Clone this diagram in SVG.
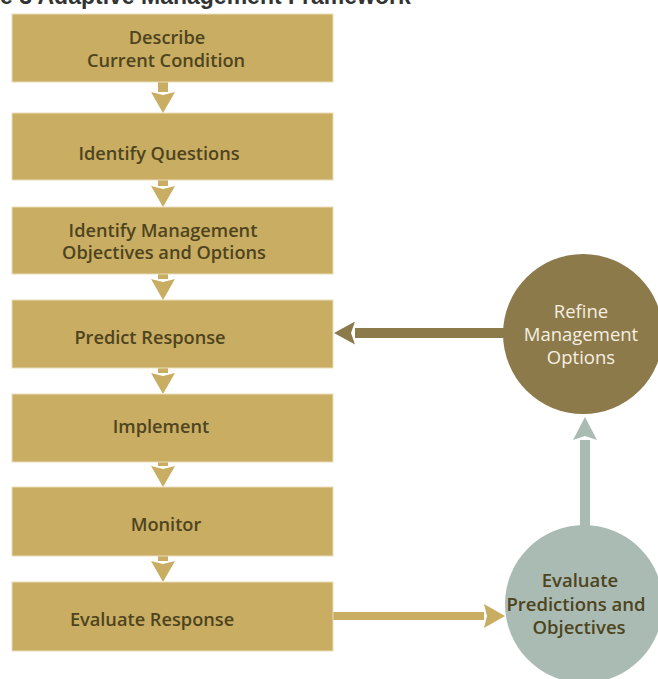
<svg xmlns="http://www.w3.org/2000/svg" width="658" height="679" viewBox="0 0 658 679">
<style>
.box{fill:#C8AD62;stroke:#E9DDB8;stroke-width:1}
.lbl{font-family:"Open Sans","Noto Sans",sans-serif;font-weight:600;font-size:18.2px;fill:#4E4420;text-anchor:middle}
.lblc{font-family:"Open Sans","Noto Sans",sans-serif;font-weight:600;font-size:18.5px;fill:#4E4420;text-anchor:middle}
.lblw{font-family:"Open Sans","Noto Sans",sans-serif;font-weight:400;font-size:18.5px;fill:#F4EFE0;text-anchor:middle}
.title{font-family:"Liberation Sans",Arial,sans-serif;font-weight:700;font-size:23px;fill:#333333}
.gold{stroke:#C8AD62;stroke-width:10;fill:none}
.brown{stroke:#8D7A4B;stroke-width:10;fill:none}
.sage{stroke:#A9BBB2;stroke-width:10;fill:none}
.goldh{stroke:#C8AD62;stroke-width:8;fill:none}
</style>
<defs>
<marker id="hg" markerUnits="userSpaceOnUse" markerWidth="21" markerHeight="24" refX="0" refY="12" orient="auto" viewBox="0 0 21 24">
<path d="M0,0 L21,12 L0,24 L3,12 Z" fill="#C8AD62"/>
</marker>
<marker id="hb" markerUnits="userSpaceOnUse" markerWidth="21" markerHeight="23" refX="0" refY="11.5" orient="auto" viewBox="0 0 21 23">
<path d="M0,0 L21,11.5 L0,23 L4,11.5 Z" fill="#8D7A4B"/>
</marker>
<marker id="hs" markerUnits="userSpaceOnUse" markerWidth="23" markerHeight="24" refX="0" refY="12" orient="auto" viewBox="0 0 23 24">
<path d="M0,0 L23,12 L0,24 L4,12 Z" fill="#A9BBB2"/>
</marker>
</defs>
<text class="title" x="0" y="4">e 3 Adaptive Management Framework</text>
<g id="connectors">
<line class="gold" x1="163" y1="82" x2="163" y2="92" marker-end="url(#hg)"/>
<line class="gold" x1="163" y1="180" x2="163" y2="186" marker-end="url(#hg)"/>
<line class="gold" x1="163" y1="274" x2="163" y2="279" marker-end="url(#hg)"/>
<line class="gold" x1="163" y1="368" x2="163" y2="373" marker-end="url(#hg)"/>
<line class="gold" x1="163" y1="462" x2="163" y2="466" marker-end="url(#hg)"/>
<line class="gold" x1="163" y1="556" x2="163" y2="561" marker-end="url(#hg)"/>
<line class="brown" x1="504" y1="333" x2="355" y2="333" marker-end="url(#hb)"/>
<line class="sage" x1="585" y1="526" x2="585" y2="440" marker-end="url(#hs)"/>
<line class="goldh" x1="333" y1="616" x2="484" y2="616" marker-end="url(#hg)"/>
</g>
<g id="n1"><rect class="box" x="12" y="14" width="321" height="68"/><text class="lbl" x="167" y="44">Describe</text><text class="lbl" x="166" y="67">Current Condition</text></g>
<g id="n2"><rect class="box" x="12" y="113" width="321" height="67"/><text class="lbl" x="159" y="160">Identify Questions</text></g>
<g id="n3"><rect class="box" x="12" y="207" width="321" height="67"/><text class="lbl" x="163" y="237">Identify Management</text><text class="lbl" x="164" y="259">Objectives and Options</text></g>
<g id="n4"><rect class="box" x="12" y="300" width="321" height="68"/><text class="lbl" x="150" y="344">Predict Response</text></g>
<g id="n5"><rect class="box" x="12" y="394" width="321" height="68"/><text class="lbl" x="161" y="433">Implement</text></g>
<g id="n6"><rect class="box" x="12" y="487" width="321" height="69"/><text class="lbl" x="166" y="531">Monitor</text></g>
<g id="n7"><rect class="box" x="12" y="582" width="321" height="69"/><text class="lbl" x="152" y="626">Evaluate Response</text></g>
<g id="refine"><circle cx="583" cy="334" r="80" fill="#8D7A4B"/><text class="lblw" x="581" y="318">Refine</text><text class="lblw" x="581" y="341">Management</text><text class="lblw" x="581" y="364">Options</text></g>
<g id="evaluate"><circle cx="584" cy="604" r="79" fill="#A9BBB2"/><text class="lblc" x="580" y="587">Evaluate</text><text class="lblc" x="576" y="611">Predictions and</text><text class="lblc" x="579" y="634">Objectives</text></g>
</svg>
